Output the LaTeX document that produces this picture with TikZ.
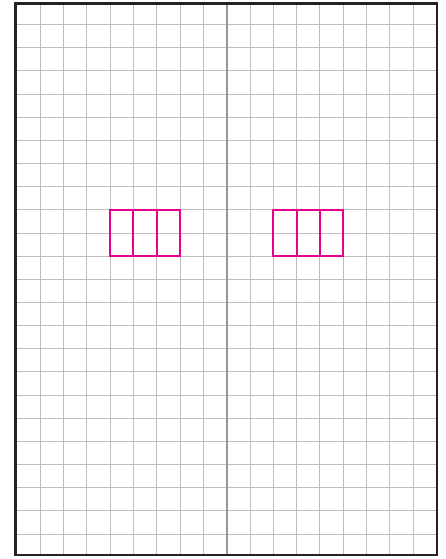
\documentclass[tikz,border=0pt]{standalone}
\usetikzlibrary{calc}
\definecolor{gridgray}{RGB}{190,190,192}
\definecolor{midgray}{RGB}{150,150,155}
\definecolor{framegray}{RGB}{35,35,35}
\definecolor{pinkmag}{RGB}{232,0,140}
\tikzset{
  gridline/.style={draw=gridgray, line width=1pt},
  centerline/.style={draw=midgray, line width=2pt},
  frameline/.style={draw=framegray, line width=2.6pt},
  cellbox/.style={draw=pinkmag, line width=2pt},
}
\begin{document}
\begin{tikzpicture}[x=1pt,y=-1pt]
\useasboundingbox (0,0) rectangle (445,559);
% horizontal grid lines
\foreach \k in {0,...,22}{
  \draw[gridline] (15.5,{24.7+23.15*\k}) -- (437,{24.7+23.15*\k});
}
% vertical grid lines
\foreach \k in {1,...,17}{
  \draw[gridline] ({16.7+23.33*\k},3.8) -- ({16.7+23.33*\k},555);
}
% centre line
\draw[centerline] (226.7,3.8) -- (226.7,555);
% frame
\draw[frameline] (15.5,3.8) rectangle (437,555);
% left block of three cells
\foreach \k in {4,5,6}{
  \draw[cellbox] ({16.7+23.33*\k},209.7) rectangle ({16.7+23.33*(\k+1)},256.3);
}
% right block of three cells
\foreach \k in {11,12,13}{
  \draw[cellbox] ({16.7+23.33*\k},209.7) rectangle ({16.7+23.33*(\k+1)},256.3);
}
\end{tikzpicture}
\end{document}
